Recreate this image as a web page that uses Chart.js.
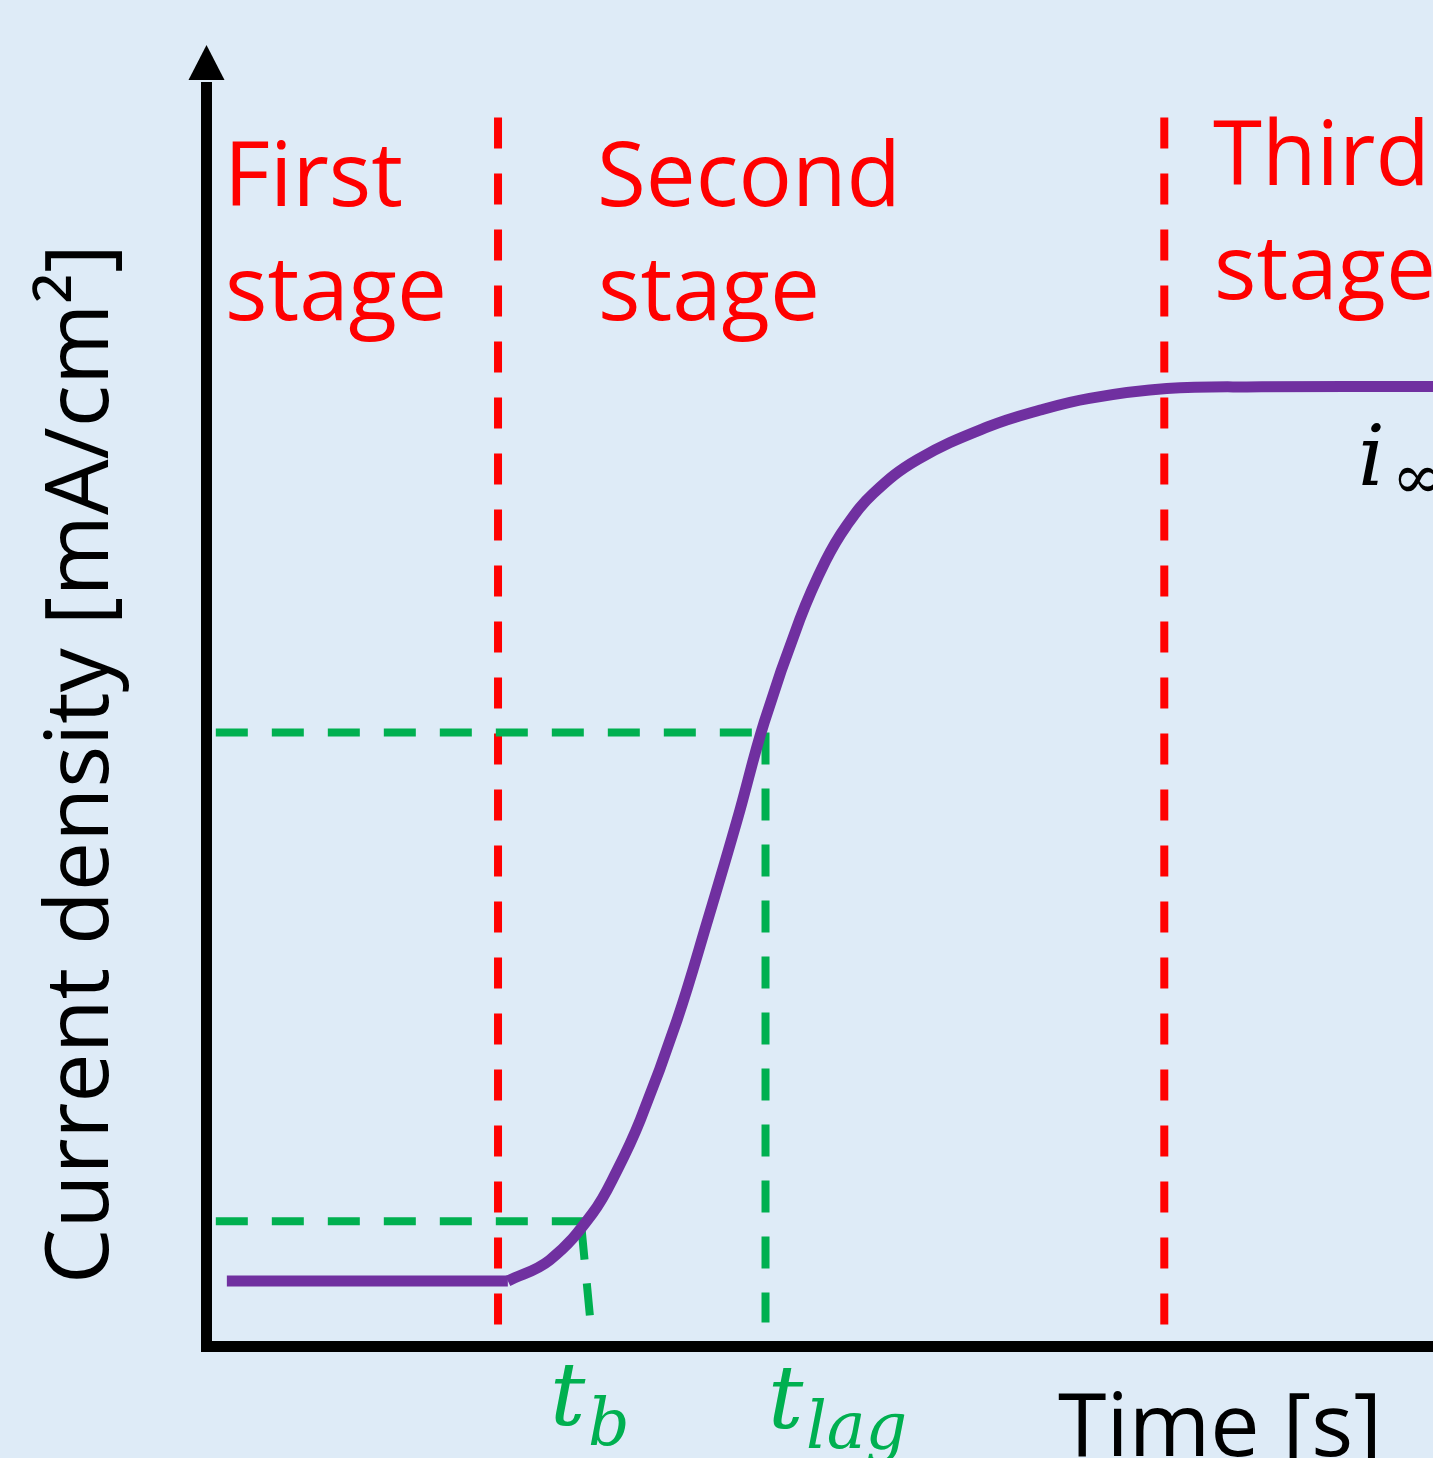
<!DOCTYPE html>
<html>
<head>
<meta charset="utf-8">
<script src="https://cdn.jsdelivr.net/npm/chart.js@4.4.1/dist/chart.umd.min.js"></script>
<style>
  html, body { margin: 0; padding: 0; background: #DEEBF7; }
  canvas { display: block; }
</style>
</head>
<body>
<canvas id="chart" width="1433" height="1458"></canvas>
<script>
// current transient (arbitrary units, 0..100 on both axes)
const flatTime = [1.7, 24.6];
const flatCurrent = [5.0, 5.0];
const riseTime = [24.6, 28.0, 31.5, 33.5, 35.4, 38.4, 40.9, 43.3, 45.5, 48.4, 50.5, 52.2, 54.4, 58.0, 63.7, 68.0, 72.0, 78.3, 86.0, 100];
const riseCurrent = [5.0, 6.6, 10.2, 13.5, 17.4, 25.1, 32.8, 40.5, 48.0, 55.9, 60.4, 63.1, 65.6, 68.2, 70.7, 72.0, 72.9, 73.65, 73.78, 73.8];

// stage boundaries (red dashed)
const stageBoundaries = [23.8, 78.1];
const boundarySpan = [94.5, 1.6];

// t_b and t_lag guides (green dashed)
const guideStart = 0.8;
const guideLevels = [9.6, 47.2];
const guideEnds = [30.8, 45.6];
const tlagTime = 45.6;
const tlagSpan = [47.2, 1.8];
const tbDropTime = [30.6, 31.3];
const tbDropCurrent = [9.1, 2.2];

const stageNames = [["First", "stage"], ["Second", "stage"], ["Third", "stage"]];

const RED = "#FF0000";
const GREEN = "#00B050";
const PURPLE = "#7030A0";
const BG = "#DEEBF7";

function pts(xs, ys) {
  return xs.map((x, i) => ({ x: x, y: ys[i] }));
}

const datasets = [];

datasets.push({ data: pts(flatTime, flatCurrent), borderColor: PURPLE, borderWidth: 11, tension: 0, order: 0 });
datasets.push({ data: pts(riseTime, riseCurrent), borderColor: PURPLE, borderWidth: 11, tension: 0.4, order: 0 });

stageBoundaries.forEach(t => {
  datasets.push({ data: pts([t, t], boundarySpan), borderColor: RED, borderWidth: 8, borderDash: [31, 25], order: 2 });
});

guideLevels.forEach((lvl, i) => {
  datasets.push({ data: pts([guideStart, guideEnds[i]], [lvl, lvl]), borderColor: GREEN, borderWidth: 8, borderDash: [32, 24], order: 1 });
});
datasets.push({ data: pts([tlagTime, tlagTime], tlagSpan), borderColor: GREEN, borderWidth: 8, borderDash: [32, 24], order: 1 });
datasets.push({ data: pts(tbDropTime, tbDropCurrent), borderColor: GREEN, borderWidth: 8, borderDash: [32, 24], order: 1 });

const decor = {
  id: "decor",
  beforeDraw(chart) {
    const ctx = chart.ctx;
    ctx.save();
    ctx.fillStyle = BG;
    ctx.fillRect(0, 0, chart.width, chart.height);
    ctx.restore();
  },
  afterDraw(chart) {
    const ctx = chart.ctx;
    const xs = chart.scales.x, ys = chart.scales.y;
    const x0 = xs.getPixelForValue(0) + 0.5;
    const y0 = ys.getPixelForValue(0) + 0.5;
    const top = chart.chartArea.top;

    // axes
    ctx.save();
    ctx.strokeStyle = "#000";
    ctx.fillStyle = "#000";
    ctx.lineWidth = 11;
    ctx.beginPath();
    ctx.moveTo(x0, y0 + 5.5);
    ctx.lineTo(x0, top + 36);
    ctx.stroke();
    ctx.beginPath();
    ctx.moveTo(x0 - 5.5, y0);
    ctx.lineTo(chart.width, y0);
    ctx.stroke();
    ctx.beginPath();
    ctx.moveTo(x0, top - 1);
    ctx.lineTo(x0 + 18, top + 34);
    ctx.lineTo(x0 - 18, top + 34);
    ctx.closePath();
    ctx.fill();

    // stage labels
    ctx.fillStyle = RED;
    ctx.font = "89px 'Open Sans'";
    ctx.textBaseline = "alphabetic";
    ctx.textAlign = "left";
    const stagePos = [[224, 206], [597, 206], [1213, 185]];
    stageNames.forEach((lines, i) => {
      ctx.fillText(lines[0], stagePos[i][0], stagePos[i][1]);
      ctx.fillText(lines[1], stagePos[i][0] + 1, stagePos[i][1] + 114);
    });

    // axis titles
    ctx.fillStyle = "#000";
    ctx.font = "88px 'Open Sans'";
    ctx.fillText("Time [s]", 1058, 1456);
    ctx.save();
    ctx.translate(108, 1284);
    ctx.rotate(-Math.PI / 2);
    ctx.fillText("Current density [mA/cm\u00B2]", 0, 0);
    ctx.restore();

    // math labels
    ctx.font = "italic 84px 'DejaVu Serif'";
    ctx.fillText("i", 1358, 485);
    ctx.font = "italic 62px 'DejaVu Serif'";
    ctx.fillText("\u221E", 1392, 498);

    ctx.fillStyle = GREEN;
    ctx.font = "italic 88px 'DejaVu Serif'";
    ctx.fillText("t", 550, 1425);
    ctx.fillText("t", 768, 1428);
    ctx.font = "italic 65px 'DejaVu Serif'";
    ctx.fillText("b", 588, 1445);
    ctx.fillText("lag", 806, 1448);
    ctx.restore();
  }
};

new Chart(document.getElementById("chart"), {
  type: "line",
  data: { datasets: datasets },
  options: {
    responsive: false,
    animation: false,
    layout: { padding: { left: 206, right: 0, top: 46, bottom: 112 } },
    elements: { point: { radius: 0 }, line: { borderCapStyle: "butt", fill: false } },
    plugins: { legend: { display: false }, tooltip: { enabled: false } },
    scales: {
      x: { type: "linear", min: 0, max: 100, display: false },
      y: { type: "linear", min: 0, max: 100, display: false }
    }
  },
  plugins: [decor]
});
</script>
</body>
</html>
